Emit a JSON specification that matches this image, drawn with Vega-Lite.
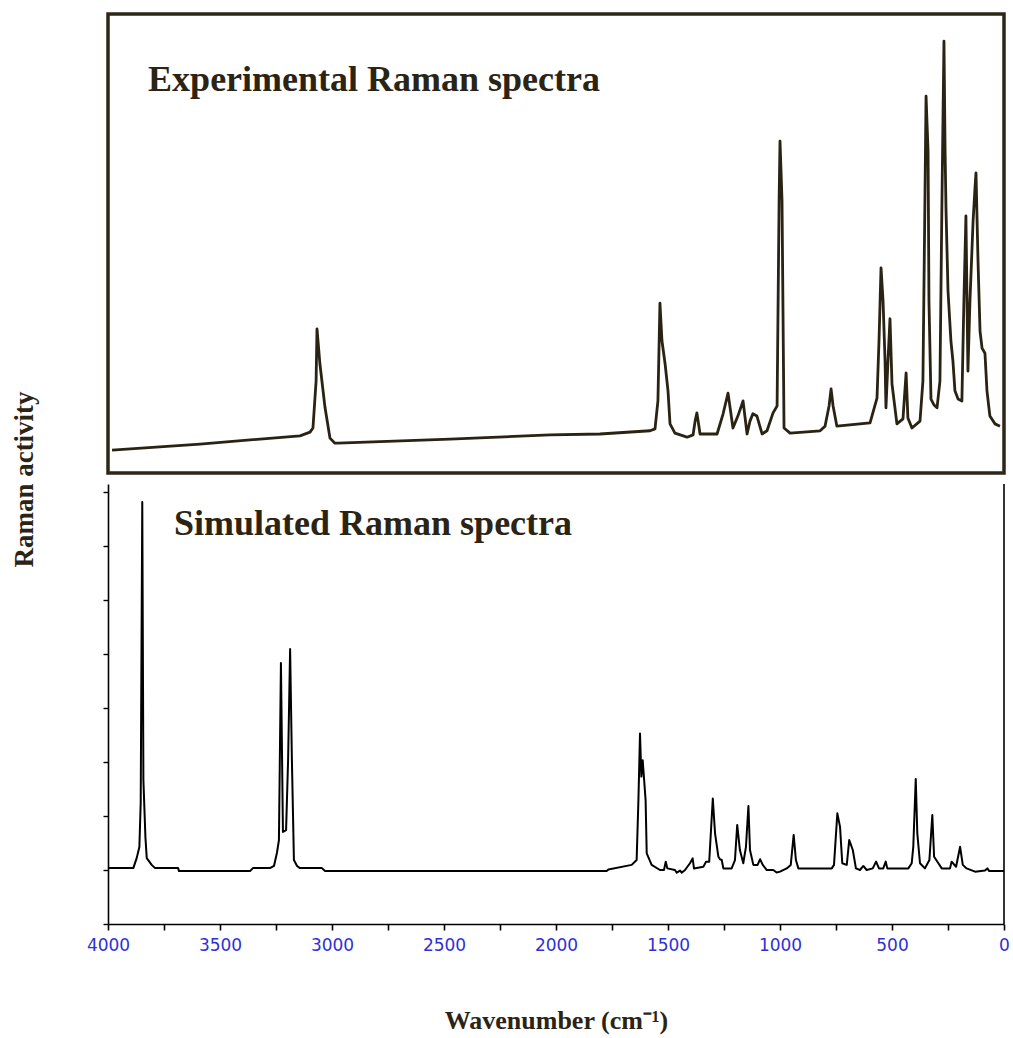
{
  "$schema": "https://vega.github.io/schema/vega-lite/v6.json",
  "padding": {"left": 9, "top": 12, "right": 5, "bottom": 5},
  "background": "white",
  "bounds": "flush",
  "config": {"view": {"stroke": null}, "font": "Liberation Serif"},
  "datasets": {
    "experimental": [
      {"wavenumber": 3982, "intensity": 5.0}, {"wavenumber": 3589, "intensity": 6.3}, {"wavenumber": 3143, "intensity": 8.1},
      {"wavenumber": 3098, "intensity": 8.9}, {"wavenumber": 3085, "intensity": 9.8}, {"wavenumber": 3071, "intensity": 20.0},
      {"wavenumber": 3067, "intensity": 31.4}, {"wavenumber": 3054, "intensity": 23.8}, {"wavenumber": 3031, "intensity": 14.2},
      {"wavenumber": 3009, "intensity": 7.6}, {"wavenumber": 2987, "intensity": 6.5}, {"wavenumber": 2973, "intensity": 6.5},
      {"wavenumber": 2473, "intensity": 7.4}, {"wavenumber": 2027, "intensity": 8.3}, {"wavenumber": 1804, "intensity": 8.5},
      {"wavenumber": 1580, "intensity": 9.2}, {"wavenumber": 1558, "intensity": 9.6}, {"wavenumber": 1545, "intensity": 15.7},
      {"wavenumber": 1536, "intensity": 37.0}, {"wavenumber": 1527, "intensity": 28.8}, {"wavenumber": 1513, "intensity": 23.8},
      {"wavenumber": 1500, "intensity": 17.9}, {"wavenumber": 1491, "intensity": 10.7}, {"wavenumber": 1469, "intensity": 8.7},
      {"wavenumber": 1415, "intensity": 7.8}, {"wavenumber": 1388, "intensity": 8.3}, {"wavenumber": 1379, "intensity": 11.3},
      {"wavenumber": 1371, "intensity": 13.1}, {"wavenumber": 1362, "intensity": 10.2}, {"wavenumber": 1357, "intensity": 8.5},
      {"wavenumber": 1281, "intensity": 8.5}, {"wavenumber": 1254, "intensity": 12.9}, {"wavenumber": 1232, "intensity": 17.4},
      {"wavenumber": 1210, "intensity": 9.8}, {"wavenumber": 1188, "intensity": 12.4}, {"wavenumber": 1165, "intensity": 15.7},
      {"wavenumber": 1147, "intensity": 8.5}, {"wavenumber": 1134, "intensity": 11.3}, {"wavenumber": 1121, "intensity": 12.9},
      {"wavenumber": 1103, "intensity": 12.4}, {"wavenumber": 1080, "intensity": 8.5}, {"wavenumber": 1058, "intensity": 9.2},
      {"wavenumber": 1031, "intensity": 13.1}, {"wavenumber": 1013, "intensity": 14.6}, {"wavenumber": 1004, "intensity": 59.3},
      {"wavenumber": 1000, "intensity": 72.3}, {"wavenumber": 991, "intensity": 59.3}, {"wavenumber": 982, "intensity": 9.8},
      {"wavenumber": 955, "intensity": 8.7}, {"wavenumber": 821, "intensity": 9.2}, {"wavenumber": 799, "intensity": 10.2},
      {"wavenumber": 781, "intensity": 14.6}, {"wavenumber": 772, "intensity": 18.3}, {"wavenumber": 763, "intensity": 14.6},
      {"wavenumber": 746, "intensity": 10.2}, {"wavenumber": 598, "intensity": 10.9}, {"wavenumber": 567, "intensity": 16.3},
      {"wavenumber": 558, "intensity": 28.8}, {"wavenumber": 549, "intensity": 44.7}, {"wavenumber": 540, "intensity": 37.5},
      {"wavenumber": 531, "intensity": 24.4}, {"wavenumber": 527, "intensity": 14.2}, {"wavenumber": 518, "intensity": 24.4},
      {"wavenumber": 509, "intensity": 33.6}, {"wavenumber": 500, "intensity": 19.4}, {"wavenumber": 478, "intensity": 10.7},
      {"wavenumber": 451, "intensity": 11.8}, {"wavenumber": 437, "intensity": 21.8}, {"wavenumber": 429, "intensity": 12.0},
      {"wavenumber": 411, "intensity": 9.8}, {"wavenumber": 375, "intensity": 11.3}, {"wavenumber": 362, "intensity": 20.0},
      {"wavenumber": 353, "intensity": 59.3}, {"wavenumber": 348, "intensity": 82.1}, {"wavenumber": 344, "intensity": 76.7},
      {"wavenumber": 339, "intensity": 70.2}, {"wavenumber": 335, "intensity": 37.5}, {"wavenumber": 326, "intensity": 16.1},
      {"wavenumber": 312, "intensity": 14.8}, {"wavenumber": 299, "intensity": 14.2}, {"wavenumber": 286, "intensity": 20.0},
      {"wavenumber": 277, "intensity": 59.3}, {"wavenumber": 268, "intensity": 94.1}, {"wavenumber": 263, "intensity": 70.2},
      {"wavenumber": 259, "intensity": 57.7}, {"wavenumber": 250, "intensity": 39.7}, {"wavenumber": 237, "intensity": 28.8},
      {"wavenumber": 228, "intensity": 24.4}, {"wavenumber": 219, "intensity": 17.9}, {"wavenumber": 205, "intensity": 16.1},
      {"wavenumber": 188, "intensity": 15.7}, {"wavenumber": 179, "intensity": 37.5}, {"wavenumber": 170, "intensity": 56.0},
      {"wavenumber": 161, "intensity": 22.2}, {"wavenumber": 152, "intensity": 37.5}, {"wavenumber": 138, "intensity": 54.9},
      {"wavenumber": 129, "intensity": 62.5}, {"wavenumber": 125, "intensity": 65.4}, {"wavenumber": 116, "intensity": 46.2},
      {"wavenumber": 107, "intensity": 30.9}, {"wavenumber": 98, "intensity": 27.2}, {"wavenumber": 85, "intensity": 26.1},
      {"wavenumber": 76, "intensity": 17.9}, {"wavenumber": 63, "intensity": 12.4}, {"wavenumber": 40, "intensity": 10.7},
      {"wavenumber": 18, "intensity": 10.2}
    ],
    "simulated": [
      {"wavenumber": 4000, "activity": 0.07}, {"wavenumber": 3887, "activity": 0.07}, {"wavenumber": 3872, "activity": 0.44},
      {"wavenumber": 3860, "activity": 0.85}, {"wavenumber": 3854, "activity": 2.48}, {"wavenumber": 3847, "activity": 13.63},
      {"wavenumber": 3842, "activity": 3.33}, {"wavenumber": 3833, "activity": 1.22}, {"wavenumber": 3827, "activity": 0.44},
      {"wavenumber": 3805, "activity": 0.19}, {"wavenumber": 3790, "activity": 0.07}, {"wavenumber": 3687, "activity": 0.07},
      {"wavenumber": 3683, "activity": -0.04}, {"wavenumber": 3366, "activity": -0.04}, {"wavenumber": 3353, "activity": 0.07},
      {"wavenumber": 3277, "activity": 0.07}, {"wavenumber": 3259, "activity": 0.15}, {"wavenumber": 3246, "activity": 0.63},
      {"wavenumber": 3237, "activity": 1.1}, {"wavenumber": 3228, "activity": 7.67}, {"wavenumber": 3219, "activity": 1.41},
      {"wavenumber": 3205, "activity": 1.48}, {"wavenumber": 3196, "activity": 4.07}, {"wavenumber": 3187, "activity": 8.19},
      {"wavenumber": 3179, "activity": 4.07}, {"wavenumber": 3170, "activity": 0.37}, {"wavenumber": 3156, "activity": 0.15},
      {"wavenumber": 3143, "activity": 0.07}, {"wavenumber": 3045, "activity": 0.07}, {"wavenumber": 3031, "activity": -0.04},
      {"wavenumber": 1774, "activity": -0.04}, {"wavenumber": 1766, "activity": 0.02}, {"wavenumber": 1662, "activity": 0.19},
      {"wavenumber": 1640, "activity": 0.37}, {"wavenumber": 1632, "activity": 2.6}, {"wavenumber": 1625, "activity": 5.06},
      {"wavenumber": 1619, "activity": 3.46}, {"wavenumber": 1613, "activity": 4.07}, {"wavenumber": 1600, "activity": 2.59},
      {"wavenumber": 1595, "activity": 0.62}, {"wavenumber": 1573, "activity": 0.19}, {"wavenumber": 1536, "activity": 0},
      {"wavenumber": 1518, "activity": 0}, {"wavenumber": 1510, "activity": 0.31}, {"wavenumber": 1503, "activity": 0.06},
      {"wavenumber": 1469, "activity": 0}, {"wavenumber": 1461, "activity": -0.1}, {"wavenumber": 1446, "activity": -0.02},
      {"wavenumber": 1439, "activity": -0.1}, {"wavenumber": 1424, "activity": 0}, {"wavenumber": 1402, "activity": 0.25},
      {"wavenumber": 1390, "activity": 0.43}, {"wavenumber": 1384, "activity": 0.06}, {"wavenumber": 1342, "activity": 0.12},
      {"wavenumber": 1330, "activity": 0.31}, {"wavenumber": 1316, "activity": 0.31}, {"wavenumber": 1300, "activity": 2.65},
      {"wavenumber": 1290, "activity": 1.36}, {"wavenumber": 1275, "activity": 0.49}, {"wavenumber": 1268, "activity": 0.4},
      {"wavenumber": 1260, "activity": 0.37}, {"wavenumber": 1253, "activity": 0.06}, {"wavenumber": 1216, "activity": 0.06},
      {"wavenumber": 1201, "activity": 0.37}, {"wavenumber": 1191, "activity": 1.67}, {"wavenumber": 1179, "activity": 0.74},
      {"wavenumber": 1164, "activity": 0.25}, {"wavenumber": 1152, "activity": 0.86}, {"wavenumber": 1141, "activity": 2.37},
      {"wavenumber": 1134, "activity": 0.74}, {"wavenumber": 1119, "activity": 0.19}, {"wavenumber": 1100, "activity": 0.19},
      {"wavenumber": 1089, "activity": 0.4}, {"wavenumber": 1077, "activity": 0.19}, {"wavenumber": 1059, "activity": 0},
      {"wavenumber": 1030, "activity": 0}, {"wavenumber": 1015, "activity": -0.09}, {"wavenumber": 1000, "activity": -0.06},
      {"wavenumber": 970, "activity": 0.06}, {"wavenumber": 952, "activity": 0.19}, {"wavenumber": 939, "activity": 1.3},
      {"wavenumber": 929, "activity": 0.37}, {"wavenumber": 918, "activity": 0.06}, {"wavenumber": 769, "activity": 0.06},
      {"wavenumber": 759, "activity": 0.19}, {"wavenumber": 744, "activity": 2.1}, {"wavenumber": 732, "activity": 1.6},
      {"wavenumber": 722, "activity": 0.25}, {"wavenumber": 702, "activity": 0.19}, {"wavenumber": 691, "activity": 1.11},
      {"wavenumber": 675, "activity": 0.74}, {"wavenumber": 661, "activity": 0.06}, {"wavenumber": 643, "activity": 0},
      {"wavenumber": 628, "activity": 0.15}, {"wavenumber": 613, "activity": 0}, {"wavenumber": 586, "activity": 0.06},
      {"wavenumber": 571, "activity": 0.31}, {"wavenumber": 558, "activity": 0.06}, {"wavenumber": 539, "activity": 0.06},
      {"wavenumber": 528, "activity": 0.31}, {"wavenumber": 521, "activity": 0.06}, {"wavenumber": 427, "activity": 0.06},
      {"wavenumber": 412, "activity": 0.25}, {"wavenumber": 405, "activity": 0.86}, {"wavenumber": 394, "activity": 3.37},
      {"wavenumber": 387, "activity": 1.36}, {"wavenumber": 375, "activity": 0.25}, {"wavenumber": 353, "activity": 0.06},
      {"wavenumber": 333, "activity": 0.37}, {"wavenumber": 320, "activity": 2.04}, {"wavenumber": 312, "activity": 0.49},
      {"wavenumber": 293, "activity": 0.25}, {"wavenumber": 278, "activity": 0.06}, {"wavenumber": 241, "activity": 0.06},
      {"wavenumber": 234, "activity": 0.31}, {"wavenumber": 214, "activity": 0.12}, {"wavenumber": 196, "activity": 0.86},
      {"wavenumber": 184, "activity": 0.19}, {"wavenumber": 167, "activity": 0.06}, {"wavenumber": 129, "activity": -0.06},
      {"wavenumber": 85, "activity": -0.02}, {"wavenumber": 74, "activity": 0.06}, {"wavenumber": 66, "activity": -0.04},
      {"wavenumber": 0, "activity": -0.04}
    ]
  },
  "spacing": 11,
  "vconcat": [
    {
      "width": 896,
      "height": 459,
      "view": {"stroke": "#2e2616", "strokeWidth": 3.5},
      "layer": [
        {
          "data": {"name": "experimental"},
          "mark": {"type": "line", "color": "#2a2313", "strokeWidth": 2.8, "strokeJoin": "round"},
          "encoding": {
            "x": {"field": "wavenumber", "type": "quantitative", "scale": {"domain": [0, 4000], "reverse": true, "nice": false}, "axis": null},
            "y": {"field": "intensity", "type": "quantitative", "scale": {"domain": [0, 100], "nice": false, "zero": false}, "axis": null}
          }
        },
        {
          "data": {"values": [{}]},
          "mark": {"type": "text", "text": "Experimental Raman spectra", "align": "left", "baseline": "alphabetic", "font": "Liberation Serif", "fontSize": 36, "fontWeight": "bold", "color": "#2b2414"},
          "encoding": {
            "x": {"datum": 3821, "type": "quantitative"},
            "y": {"datum": 83.2, "type": "quantitative"}
          }
        }
      ]
    },
    {
      "width": 896,
      "height": 440,
      "layer": [
        {
          "data": {"name": "simulated"},
          "mark": {"type": "line", "color": "#000000", "strokeWidth": 2, "strokeJoin": "round"},
          "encoding": {
            "x": {
              "field": "wavenumber", "type": "quantitative",
              "scale": {"domain": [0, 4000], "reverse": true, "nice": false},
              "axis": {
                "values": [0, 250, 500, 750, 1000, 1250, 1500, 1750, 2000, 2250, 2500, 2750, 3000, 3250, 3500, 3750, 4000],
                "format": "d",
                "labelExpr": "datum.value % 500 === 0 ? datum.label : ''",
                "labelFlush": false, "labelOverlap": false,
                "labelFont": "DejaVu Sans", "labelFontSize": 17, "labelColor": "#2f2fd6", "labelPadding": 7,
                "grid": false,
                "domainColor": "#000000", "domainWidth": 1.6,
                "tickColor": "#000000", "tickWidth": 1.6, "tickSize": 6,
                "title": "Wavenumber (cm⁻¹)",
                "titleFont": "Liberation Serif", "titleFontSize": 26, "titleFontWeight": "bold", "titleColor": "#2b2414",
                "titleBaseline": "alphabetic", "titleY": 104
              }
            },
            "y": {
              "field": "activity", "type": "quantitative",
              "scale": {"domain": [-2, 14.3], "nice": false, "zero": false},
              "axis": {
                "values": [-2, -1, 0, 1, 2, 3, 4, 5, 6, 7, 8, 9, 10, 11, 12, 13, 14],
                "labels": false, "grid": false,
                "domainColor": "#000000", "domainWidth": 1.6,
                "tickColor": "#000000", "tickWidth": 1.4, "tickSize": 5,
                "title": "Raman activity",
                "titleFont": "Liberation Serif", "titleFontSize": 27, "titleFontWeight": "bold", "titleColor": "#2b2414",
                "titleAngle": -90, "titleAlign": "center", "titleBaseline": "alphabetic",
                "titleX": -76, "titleY": -5
              }
            }
          }
        },
        {
          "data": {"values": [{}]},
          "mark": {"type": "rule", "color": "#000000", "strokeWidth": 1.6},
          "encoding": {"x": {"datum": 0, "type": "quantitative"}}
        },
        {
          "data": {"values": [{}]},
          "mark": {"type": "text", "text": "Simulated Raman spectra", "align": "left", "baseline": "alphabetic", "font": "Liberation Serif", "fontSize": 36, "fontWeight": "bold", "color": "#2b2414"},
          "encoding": {
            "x": {"datum": 3705, "type": "quantitative"},
            "y": {"datum": 12.4, "type": "quantitative"}
          }
        }
      ]
    }
  ]
}
